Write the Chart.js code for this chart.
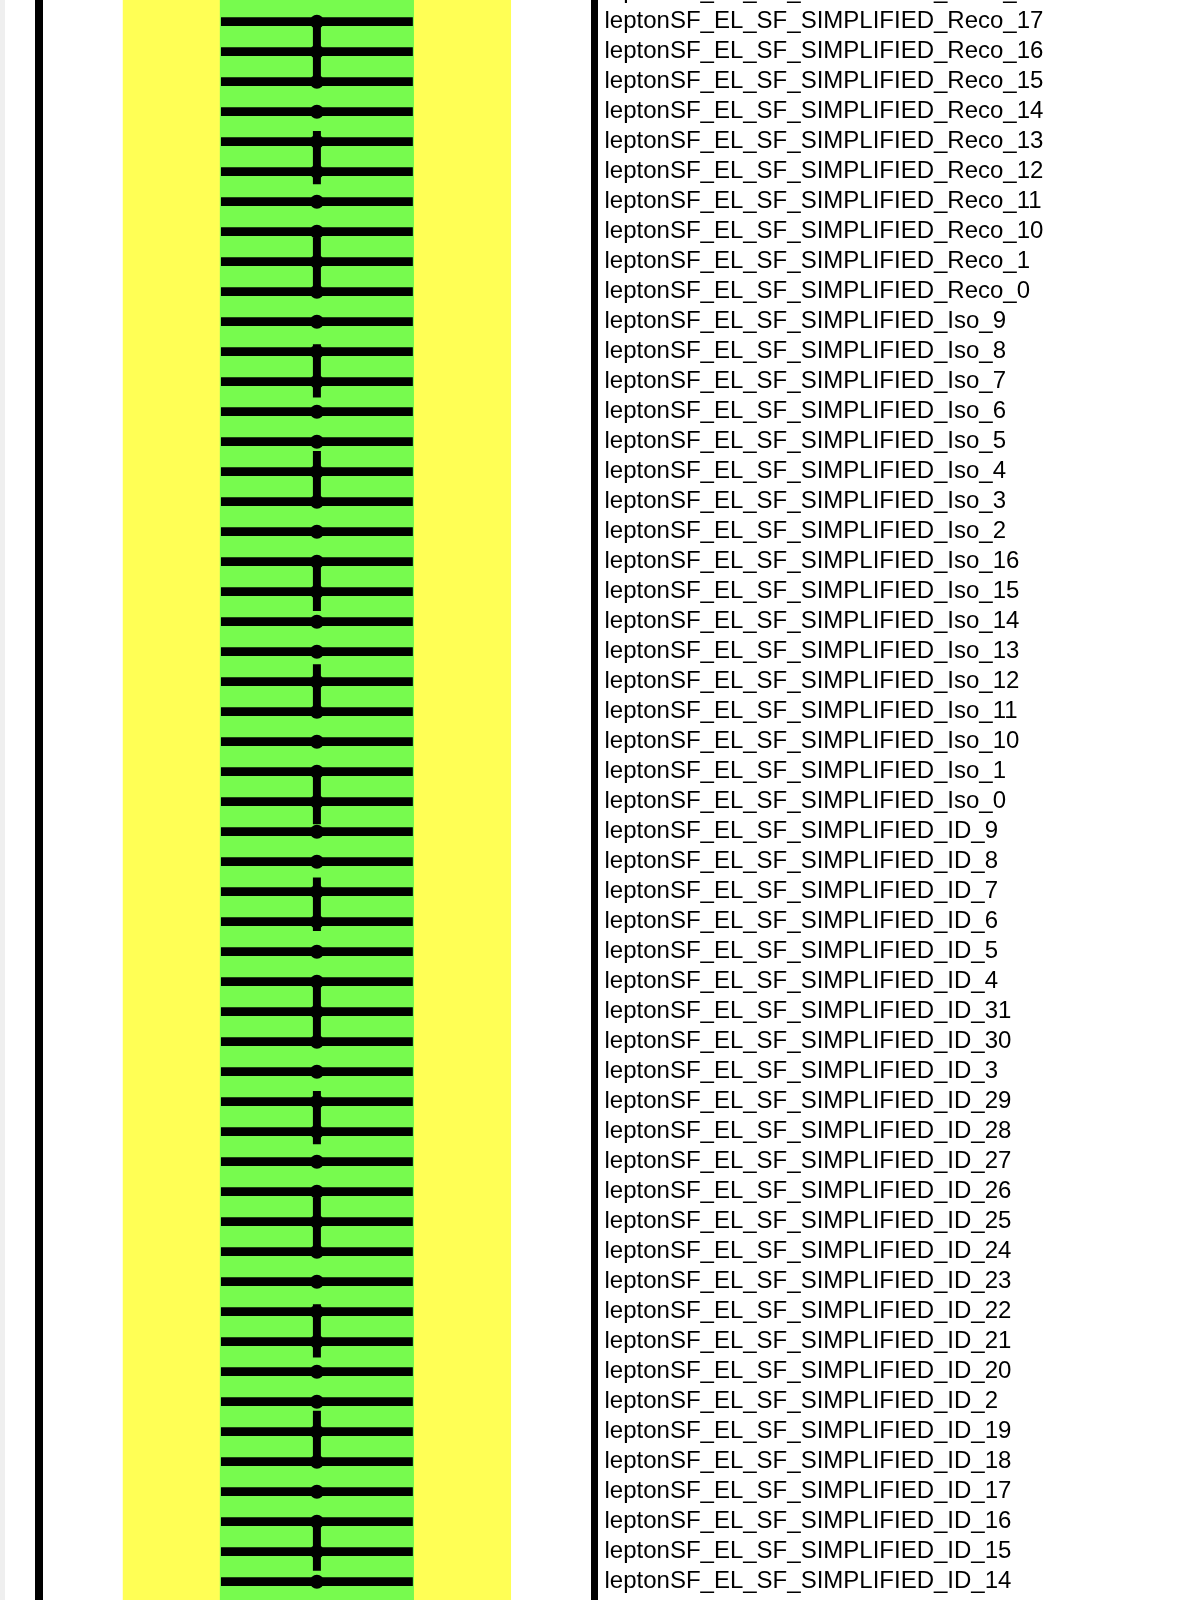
<!DOCTYPE html>
<html><head><meta charset="utf-8">
<script src="https://cdn.jsdelivr.net/npm/chart.js@4.4.1/dist/chart.umd.min.js"></script>
<style>
html,body{margin:0;padding:0;background:#efefef;overflow:hidden;width:1190px;height:1600px;}
#wrap{position:absolute;left:5px;top:-50px;width:1185px;height:1700px;background:#ffffff;}
canvas{display:block;}
</style></head><body>
<div id="wrap"><canvas id="c" width="1185" height="1700"></canvas></div>
<script>
// Nuisance parameter names (top to bottom; first and last are only partly in view)
const labels = [
  'leptonSF_EL_SF_SIMPLIFIED_Reco_18',
  'leptonSF_EL_SF_SIMPLIFIED_Reco_17',
  'leptonSF_EL_SF_SIMPLIFIED_Reco_16',
  'leptonSF_EL_SF_SIMPLIFIED_Reco_15',
  'leptonSF_EL_SF_SIMPLIFIED_Reco_14',
  'leptonSF_EL_SF_SIMPLIFIED_Reco_13',
  'leptonSF_EL_SF_SIMPLIFIED_Reco_12',
  'leptonSF_EL_SF_SIMPLIFIED_Reco_11',
  'leptonSF_EL_SF_SIMPLIFIED_Reco_10',
  'leptonSF_EL_SF_SIMPLIFIED_Reco_1',
  'leptonSF_EL_SF_SIMPLIFIED_Reco_0',
  'leptonSF_EL_SF_SIMPLIFIED_Iso_9',
  'leptonSF_EL_SF_SIMPLIFIED_Iso_8',
  'leptonSF_EL_SF_SIMPLIFIED_Iso_7',
  'leptonSF_EL_SF_SIMPLIFIED_Iso_6',
  'leptonSF_EL_SF_SIMPLIFIED_Iso_5',
  'leptonSF_EL_SF_SIMPLIFIED_Iso_4',
  'leptonSF_EL_SF_SIMPLIFIED_Iso_3',
  'leptonSF_EL_SF_SIMPLIFIED_Iso_2',
  'leptonSF_EL_SF_SIMPLIFIED_Iso_16',
  'leptonSF_EL_SF_SIMPLIFIED_Iso_15',
  'leptonSF_EL_SF_SIMPLIFIED_Iso_14',
  'leptonSF_EL_SF_SIMPLIFIED_Iso_13',
  'leptonSF_EL_SF_SIMPLIFIED_Iso_12',
  'leptonSF_EL_SF_SIMPLIFIED_Iso_11',
  'leptonSF_EL_SF_SIMPLIFIED_Iso_10',
  'leptonSF_EL_SF_SIMPLIFIED_Iso_1',
  'leptonSF_EL_SF_SIMPLIFIED_Iso_0',
  'leptonSF_EL_SF_SIMPLIFIED_ID_9',
  'leptonSF_EL_SF_SIMPLIFIED_ID_8',
  'leptonSF_EL_SF_SIMPLIFIED_ID_7',
  'leptonSF_EL_SF_SIMPLIFIED_ID_6',
  'leptonSF_EL_SF_SIMPLIFIED_ID_5',
  'leptonSF_EL_SF_SIMPLIFIED_ID_4',
  'leptonSF_EL_SF_SIMPLIFIED_ID_31',
  'leptonSF_EL_SF_SIMPLIFIED_ID_30',
  'leptonSF_EL_SF_SIMPLIFIED_ID_3',
  'leptonSF_EL_SF_SIMPLIFIED_ID_29',
  'leptonSF_EL_SF_SIMPLIFIED_ID_28',
  'leptonSF_EL_SF_SIMPLIFIED_ID_27',
  'leptonSF_EL_SF_SIMPLIFIED_ID_26',
  'leptonSF_EL_SF_SIMPLIFIED_ID_25',
  'leptonSF_EL_SF_SIMPLIFIED_ID_24',
  'leptonSF_EL_SF_SIMPLIFIED_ID_23',
  'leptonSF_EL_SF_SIMPLIFIED_ID_22',
  'leptonSF_EL_SF_SIMPLIFIED_ID_21',
  'leptonSF_EL_SF_SIMPLIFIED_ID_20',
  'leptonSF_EL_SF_SIMPLIFIED_ID_2',
  'leptonSF_EL_SF_SIMPLIFIED_ID_19',
  'leptonSF_EL_SF_SIMPLIFIED_ID_18',
  'leptonSF_EL_SF_SIMPLIFIED_ID_17',
  'leptonSF_EL_SF_SIMPLIFIED_ID_16',
  'leptonSF_EL_SF_SIMPLIFIED_ID_15',
  'leptonSF_EL_SF_SIMPLIFIED_ID_14',
  'leptonSF_EL_SF_SIMPLIFIED_ID_13'
];

// Post-fit pull (central value) of each parameter
const pulls = [
  0, 0, 0, 0, 0, 0, 0, 0, 0, 0, 0,
  0, 0, 0, 0, 0, 0, 0, 0, 0, 0, 0, 0, 0, 0, 0, 0, 0,
  0, 0, 0, 0, 0, 0, 0, 0, 0, 0, 0, 0, 0, 0, 0, 0, 0, 0, 0, 0, 0, 0, 0, 0, 0, 0, 0
];

// Post-fit constraint (horizontal error) of each parameter
const errors = [
  0.985, 0.985, 0.985, 0.985, 0.985, 0.985, 0.985, 0.985, 0.985, 0.985, 0.985,
  0.985, 0.985, 0.985, 0.985, 0.985, 0.985, 0.985, 0.985, 0.985, 0.985, 0.985, 0.985, 0.985, 0.985, 0.985, 0.985, 0.985,
  0.985, 0.985, 0.985, 0.985, 0.985, 0.985, 0.985, 0.985, 0.985, 0.985, 0.985, 0.985, 0.985, 0.985, 0.985, 0.985, 0.985, 0.985, 0.985, 0.985, 0.985, 0.985, 0.985, 0.985, 0.985, 0.985, 0.985
];

// +-1 sigma and +-2 sigma bands
const band1 = [-1, 1];
const band2 = [-2, 2];

const bandsPlugin = {
  id: 'bands',
  beforeDatasetsDraw(chart) {
    const {ctx, chartArea: a, scales: {x}} = chart;
    ctx.save();
    [[band2, '#ffff55'], [band1, '#77fb4e']].forEach(([b, col]) => {
      const x0 = x.getPixelForValue(b[0]);
      const x1 = x.getPixelForValue(b[1]);
      ctx.fillStyle = col;
      ctx.fillRect(x0, a.top, x1 - x0, a.bottom - a.top);
    });
    ctx.restore();
  }
};

new Chart(document.getElementById('c'), {
  type: 'bar',
  data: {
    datasets: [
      {
        type: 'line',
        label: 'pull',
        data: labels.map((_, i) => ({x: pulls[i], y: i})),
        borderColor: '#000000',
        borderWidth: 8,
        borderDash: [53.33, 53.33],
        borderDashOffset: 74.07,
        borderCapStyle: 'butt',
        pointRadius: 7,
        pointHoverRadius: 7,
        pointBackgroundColor: '#000000',
        pointBorderWidth: 0,
        fill: false,
        tension: 0,
        order: 1
      },
      {
        type: 'bar',
        label: 'constraint',
        data: labels.map((_, i) => ({y: i, x: [pulls[i] - errors[i], pulls[i] + errors[i]]})),
        backgroundColor: '#000000',
        borderWidth: 0,
        barThickness: 8,
        order: 2
      }
    ]
  },
  options: {
    indexAxis: 'y',
    responsive: false,
    animation: false,
    devicePixelRatio: 1,
    layout: {padding: 0, autoPadding: false},
    plugins: {legend: {display: false}, tooltip: {enabled: false}},
    scales: {
      x: {type: 'linear', min: -2.86, max: 2.86, display: false, offset: false},
      y: {
        type: 'linear',
        position: 'right',
        reverse: true,
        offset: false,
        grace: 0,
        min: -1.39,
        max: 55.2767,
        bounds: 'data',
        grid: {display: false, drawTicks: false, offset: false},
        border: {display: true, color: '#000000', width: 7},
        afterBuildTicks: s => { s.ticks = labels.map((_, i) => ({value: i})); },
        afterFit: s => { s.width = 595.5; s.paddingTop = 0; s.paddingBottom = 0; },
        ticks: {
          autoSkip: false,
          padding: 10,
          color: '#000000',
          font: {family: "'Liberation Sans', Arial, sans-serif", size: 24},
          callback: v => (labels[v] !== undefined ? labels[v] : '')
        }
      },
      yL: {
        type: 'linear',
        position: 'left',
        display: true,
        offset: false,
        grid: {display: false, drawTicks: false},
        border: {display: true, color: '#000000', width: 8},
        ticks: {display: false},
        afterFit: s => { s.width = 34.3; s.paddingTop = 0; s.paddingBottom = 0; }
      }
    }
  },
  plugins: [bandsPlugin]
});
</script>
</body></html>
